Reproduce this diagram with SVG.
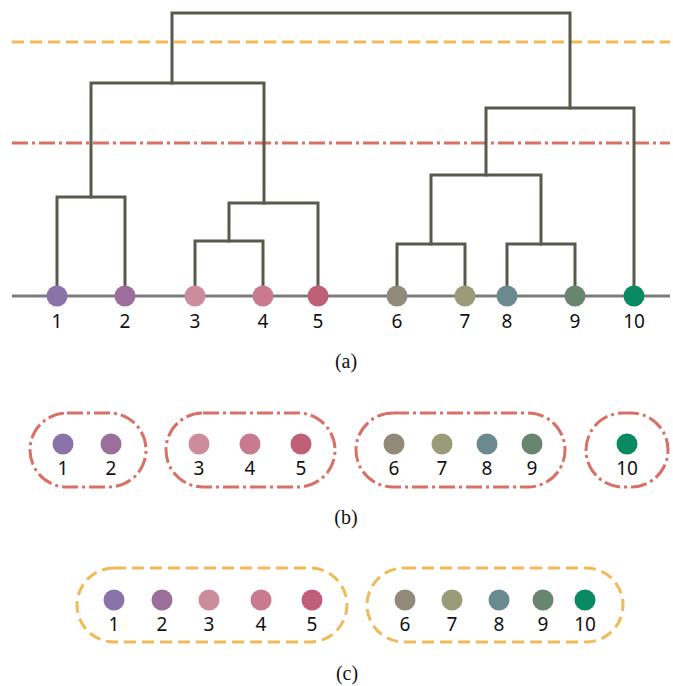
<svg xmlns="http://www.w3.org/2000/svg" width="673" height="686" viewBox="0 0 673 686">
<style>
.tree{fill:none;stroke:#5a5a4c;stroke-width:3;stroke-linejoin:miter;stroke-linecap:square}
.base{stroke:#7c7c7c;stroke-width:3}
.cutO{stroke:#f0b95a;stroke-width:3;stroke-dasharray:12 6;fill:none}
.cutR{stroke:#d97065;stroke-width:3;stroke-dasharray:16 4 3 4;fill:none}
.lbl{font-family:"Noto Sans","Open Sans",sans-serif;font-size:19px;fill:#111;text-anchor:middle}
.cap{font-family:"Liberation Serif","DejaVu Serif",serif;font-size:20px;fill:#111;text-anchor:middle}
.c1{fill:#8a73a8}.c2{fill:#9c6e9a}.c3{fill:#cc8c9c}.c4{fill:#c97a8e}.c5{fill:#bf5f78}
.c6{fill:#928a78}.c7{fill:#9a9b78}.c8{fill:#6a8a90}.c9{fill:#688570}.c10{fill:#0a8a60}
</style>
<!-- Panel (a) -->
<g id="cut-lines">
<line class="cutO" x1="12" y1="42" x2="670" y2="42"/>
<line class="cutR" x1="12" y1="143" x2="670" y2="143"/>
</g>
<line class="base" x1="12" y1="296" x2="670" y2="296"/>
<g id="connectors" class="tree">
<path d="M57 296V197H125V296"/>
<path d="M195 296V241H263V296"/>
<path d="M229 241V203H318V296"/>
<path d="M91 197V83H264V203"/>
<path d="M172 83V13H570V108"/>
<path d="M397 296V244H465V296"/>
<path d="M507 296V244H575V296"/>
<path d="M431 244V175H541V244"/>
<path d="M486 175V108H634V296"/>
</g>
<g id="leaf-1"><circle class="c1" cx="57" cy="296" r="10.5"/><text class="lbl" x="57" y="328">1</text></g>
<g id="leaf-2"><circle class="c2" cx="125" cy="296" r="10.5"/><text class="lbl" x="125" y="328">2</text></g>
<g id="leaf-3"><circle class="c3" cx="195" cy="296" r="10.5"/><text class="lbl" x="195" y="328">3</text></g>
<g id="leaf-4"><circle class="c4" cx="263" cy="296" r="10.5"/><text class="lbl" x="263" y="328">4</text></g>
<g id="leaf-5"><circle class="c5" cx="318" cy="296" r="10.5"/><text class="lbl" x="318" y="328">5</text></g>
<g id="leaf-6"><circle class="c6" cx="397" cy="296" r="10.5"/><text class="lbl" x="397" y="328">6</text></g>
<g id="leaf-7"><circle class="c7" cx="465" cy="296" r="10.5"/><text class="lbl" x="465" y="328">7</text></g>
<g id="leaf-8"><circle class="c8" cx="507" cy="296" r="10.5"/><text class="lbl" x="507" y="328">8</text></g>
<g id="leaf-9"><circle class="c9" cx="575" cy="296" r="10.5"/><text class="lbl" x="575" y="328">9</text></g>
<g id="leaf-10"><circle class="c10" cx="634" cy="296" r="10.5"/><text class="lbl" x="634" y="328">10</text></g>
<text class="cap" x="346" y="368">(a)</text>
<!-- Panel (b) -->
<g id="b-group-1"><rect class="cutR" x="30" y="413" width="116" height="74" rx="37"/>
<circle class="c1" cx="63" cy="444" r="10.5"/><text class="lbl" x="63" y="475">1</text>
<circle class="c2" cx="111" cy="444" r="10.5"/><text class="lbl" x="111" y="475">2</text></g>
<g id="b-group-2"><rect class="cutR" x="166" y="413" width="169" height="74" rx="37"/>
<circle class="c3" cx="199" cy="444" r="10.5"/><text class="lbl" x="199" y="475">3</text>
<circle class="c4" cx="250" cy="444" r="10.5"/><text class="lbl" x="250" y="475">4</text>
<circle class="c5" cx="301" cy="444" r="10.5"/><text class="lbl" x="301" y="475">5</text></g>
<g id="b-group-3"><rect class="cutR" x="356" y="413" width="209" height="74" rx="37"/>
<circle class="c6" cx="394" cy="444" r="10.5"/><text class="lbl" x="394" y="475">6</text>
<circle class="c7" cx="442" cy="444" r="10.5"/><text class="lbl" x="442" y="475">7</text>
<circle class="c8" cx="487" cy="444" r="10.5"/><text class="lbl" x="487" y="475">8</text>
<circle class="c9" cx="532" cy="444" r="10.5"/><text class="lbl" x="532" y="475">9</text></g>
<g id="b-group-4"><rect class="cutR" x="586" y="413" width="82" height="74" rx="37"/>
<circle class="c10" cx="627" cy="444" r="10.5"/><text class="lbl" x="627" y="475">10</text></g>
<text class="cap" x="346" y="524">(b)</text>
<!-- Panel (c) -->
<g id="c-group-1"><rect class="cutO" x="77" y="568" width="270" height="74" rx="37"/>
<circle class="c1" cx="114" cy="600" r="10.5"/><text class="lbl" x="114" y="631">1</text>
<circle class="c2" cx="162" cy="600" r="10.5"/><text class="lbl" x="162" y="631">2</text>
<circle class="c3" cx="209" cy="600" r="10.5"/><text class="lbl" x="209" y="631">3</text>
<circle class="c4" cx="261" cy="600" r="10.5"/><text class="lbl" x="261" y="631">4</text>
<circle class="c5" cx="312" cy="600" r="10.5"/><text class="lbl" x="312" y="631">5</text></g>
<g id="c-group-2"><rect class="cutO" x="367" y="568" width="256" height="74" rx="37"/>
<circle class="c6" cx="405" cy="600" r="10.5"/><text class="lbl" x="405" y="631">6</text>
<circle class="c7" cx="452" cy="600" r="10.5"/><text class="lbl" x="452" y="631">7</text>
<circle class="c8" cx="499" cy="600" r="10.5"/><text class="lbl" x="499" y="631">8</text>
<circle class="c9" cx="543" cy="600" r="10.5"/><text class="lbl" x="543" y="631">9</text>
<circle class="c10" cx="585" cy="600" r="10.5"/><text class="lbl" x="585" y="631">10</text></g>
<text class="cap" x="347" y="680">(c)</text>
</svg>
